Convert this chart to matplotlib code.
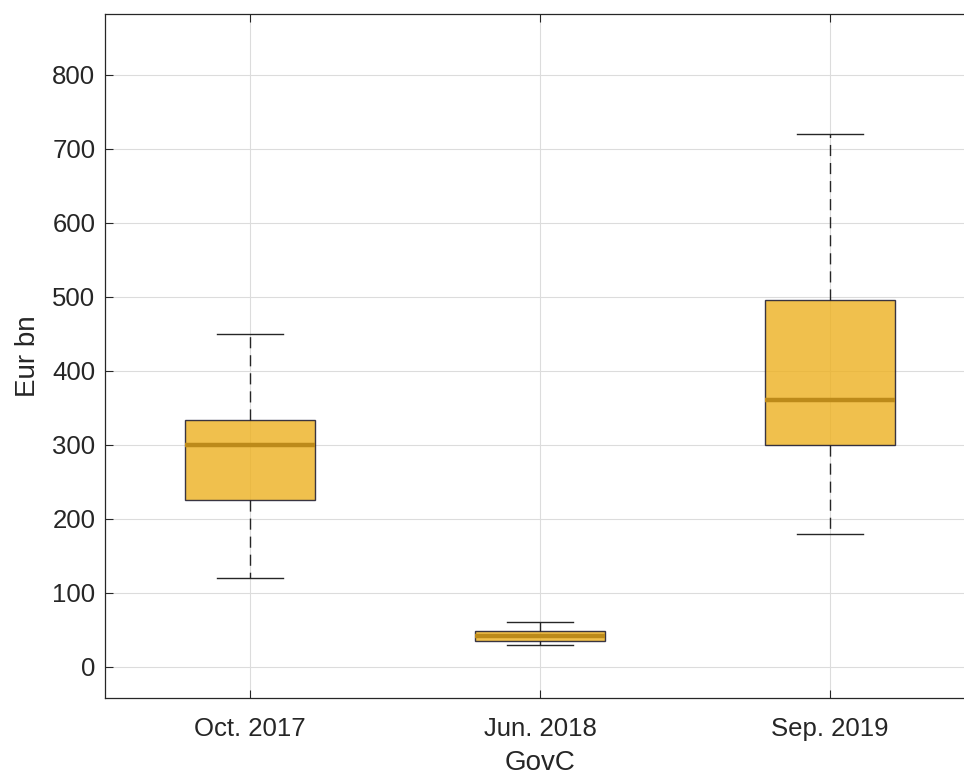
import matplotlib
matplotlib.use("Agg")
import matplotlib.pyplot as plt

plt.rcParams['font.family'] = ['Liberation Sans', 'DejaVu Sans']

# box statistics (Eur bn)
labels = ["Oct. 2017", "Jun. 2018", "Sep. 2019"]
whislo = [120, 30, 180]
q1 = [226, 35, 300]
med = [300, 42, 360]
q3 = [334, 48, 495]
whishi = [450, 60, 720]

stats = []
for i in range(len(labels)):
    stats.append({"label": labels[i], "whislo": whislo[i], "q1": q1[i],
                  "med": med[i], "q3": q3[i], "whishi": whishi[i], "fliers": []})

fig = plt.figure(figsize=(9.64, 7.79), dpi=100)
ax = fig.add_axes([0.1089, 0.104, 0.9025, 0.878])

ax.grid(True, color="#dcdcdc", linewidth=0.8, zorder=0)
ax.set_axisbelow(True)

bp = ax.bxp(stats, positions=[1, 2, 3], widths=0.45, patch_artist=True,
            showfliers=False,
            boxprops=dict(facecolor="#EDB120", alpha=0.8, edgecolor="#0a0a28", linewidth=1.0),
            medianprops=dict(color="#BC8A1A", linewidth=3.2),
            whiskerprops=dict(color="#262626", linewidth=1.0, linestyle=(0, (8, 5))),
            capprops=dict(color="#262626", linewidth=1.0),
            capwidths=0.225)
for b in bp["boxes"]:
    b.set_zorder(3)
    b.set_edgecolor("#0a0a28")
for m in bp["medians"]:
    m.set_zorder(4)

ax.set_xlim(0.5, 3.5)
ax.set_ylim(-42, 882)
ax.set_yticks(range(0, 900, 100))

ax.tick_params(direction="in", length=6, labelsize=18.5, colors="#262626",
               top=True, right=True, pad=7)
ax.tick_params(axis="x", pad=14)
for s in ax.spines.values():
    s.set_color("#262626")
    s.set_linewidth(0.9)

ax.set_ylabel("Eur bn", fontsize=20, color="#262626", labelpad=8)
ax.set_xlabel("GovC", fontsize=20, color="#262626", labelpad=6)

fig.savefig("out.png", dpi=100)
